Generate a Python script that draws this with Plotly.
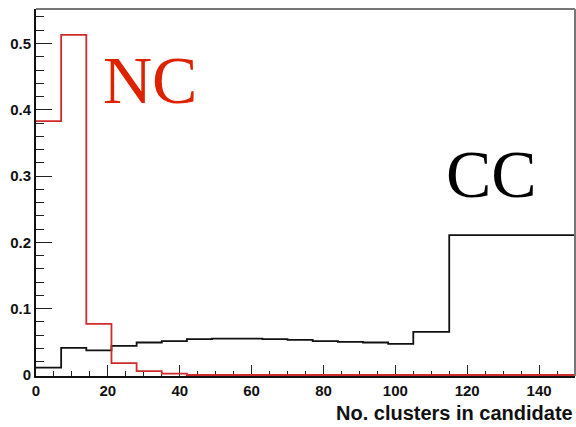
import plotly.graph_objects as go

# Bin edges (No. clusters in candidate)
bin_edges = [0, 7, 14, 21, 28, 35, 42, 49, 56, 63, 70, 77, 84, 91, 98, 105, 115, 150]
# Normalised fractions per bin
nc_values = [0.383, 0.513, 0.077, 0.018, 0.006, 0.002, 0.0, 0.0, 0.0, 0.0, 0.0,
             0.0, 0.0, 0.0, 0.0, 0.0, 0.0]
cc_values = [0.011, 0.041, 0.037, 0.044, 0.049, 0.051, 0.054, 0.055, 0.055, 0.054,
             0.053, 0.051, 0.050, 0.049, 0.047, 0.065, 0.211]

x_ticks = [0, 20, 40, 60, 80, 100, 120, 140]
y_ticks = [0, 0.1, 0.2, 0.3, 0.4, 0.5]
y_tick_text = ["0", "0.1", "0.2", "0.3", "0.4", "0.5"]


def step_xy(edges, vals):
    return list(edges), list(vals) + [vals[-1]]


fig = go.Figure()
cx, cy = step_xy(bin_edges, cc_values)
fig.add_trace(go.Scatter(x=cx, y=cy, mode="lines", line=dict(shape="hv", color="#111111", width=1.8),
                         showlegend=False, hoverinfo="skip"))
nx, ny = step_xy(bin_edges, nc_values)
fig.add_trace(go.Scatter(x=nx, y=ny, mode="lines", line=dict(shape="hv", color="#d02a2a", width=1.8),
                         showlegend=False, hoverinfo="skip"))

tickfont = dict(family="Liberation Sans, Arial, sans-serif", size=15, color="#111111", weight="bold")

fig.update_layout(
    width=576, height=427,
    margin=dict(l=36, r=1, t=9, b=51),
    paper_bgcolor="white", plot_bgcolor="white",
    xaxis=dict(range=[0, 150], showgrid=False, zeroline=False,
               showline=True, linecolor="#111111", linewidth=2,
               ticks="inside", ticklen=11, tickwidth=1.3, tickcolor="#222222",
               tickvals=x_ticks, ticktext=[str(v) for v in x_ticks], tickfont=tickfont,
               minor=dict(dtick=5, tick0=0, ticks="inside", ticklen=5, tickwidth=1.2, tickcolor="#222222", showgrid=False),
               layer="below traces", fixedrange=True),
    yaxis=dict(range=[-0.0015, 0.552], showgrid=False, zeroline=False,
               showline=True, linecolor="#111111", linewidth=2,
               ticks="inside", ticklen=16, tickwidth=1.3, tickcolor="#222222",
               tickvals=y_ticks, ticktext=y_tick_text, tickfont=tickfont,
               minor=dict(dtick=0.02, tick0=0, ticks="inside", ticklen=8, tickwidth=1.2, tickcolor="#222222", showgrid=False),
               fixedrange=True),
    shapes=[
        dict(type="line", xref="paper", yref="paper", x0=0, x1=1, y0=1, y1=1,
             line=dict(color="#777777", width=2)),
        dict(type="line", xref="paper", yref="paper", x0=1, x1=1, y0=0, y1=1,
             line=dict(color="#777777", width=2)),
    ],
    annotations=[
        dict(text="No. clusters in candidate", xref="paper", yref="paper", x=1.0, y=-(426 - 376) / 367,
             xanchor="right", yanchor="bottom", showarrow=False,
             font=dict(family="Liberation Sans, Arial, sans-serif", size=20, color="#111111", weight="bold")),
        dict(text="NC", xref="paper", yref="paper", x=(150 - 36) / 539, y=(376 - 80) / 367,
             xanchor="center", yanchor="middle", showarrow=False,
             font=dict(family="Liberation Serif, Times New Roman, serif", size=68, color="#dd2200")),
        dict(text="CC", xref="paper", yref="paper", x=(491 - 36) / 539, y=(376 - 174) / 367,
             xanchor="center", yanchor="middle", showarrow=False,
             font=dict(family="Liberation Serif, Times New Roman, serif", size=68, color="#000000")),
    ],
)

fig.write_html("out.html")
